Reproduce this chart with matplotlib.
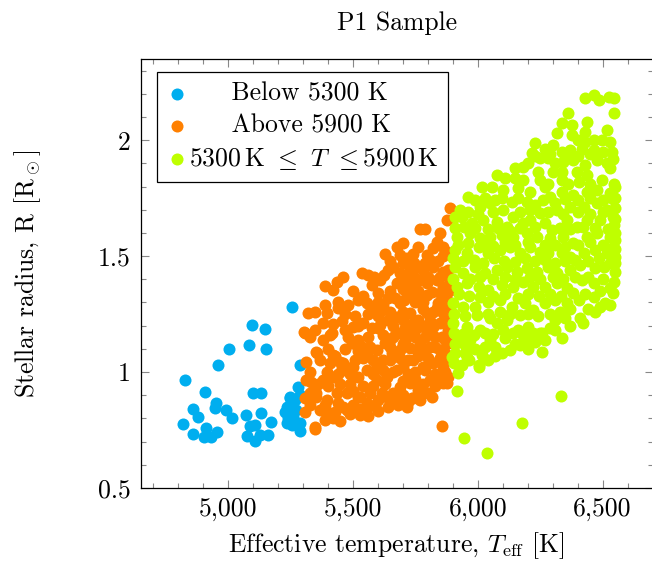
import matplotlib
matplotlib.use("Agg")
import matplotlib.pyplot as plt
from matplotlib.ticker import MultipleLocator, FuncFormatter

plt.rcParams["font.family"] = "serif"
plt.rcParams["font.serif"] = ["cmr10"]
plt.rcParams["mathtext.fontset"] = "cm"
plt.rcParams["axes.unicode_minus"] = False
plt.rcParams["axes.formatter.use_mathtext"] = True

# stars below 5300 K
blue_T = [5254, 5094, 5147, 5004, 5082, 5150, 4960, 4829, 5288, 4909, 5100, 5130,
          5281, 5247, 4860, 4951, 4947, 4991, 5014, 4880, 4820, 4860, 4913, 4903,
          4933, 4956, 5071, 5131, 5170, 5087, 5107, 5076, 5107, 5127, 5160, 5234,
          5234, 5261, 5288, 5290, 5247, 5267, 5227, 5255, 5239, 5271, 5288]
blue_R = [1.282, 1.203, 1.185, 1.100, 1.115, 1.100, 1.029, 0.967, 1.030, 0.915, 0.908, 0.911,
          0.937, 0.894, 0.841, 0.868, 0.846, 0.836, 0.801, 0.805, 0.776, 0.733, 0.757, 0.721,
          0.721, 0.740, 0.815, 0.825, 0.786, 0.769, 0.772, 0.726, 0.704, 0.729, 0.729, 0.851,
          0.779, 0.807, 0.779, 0.747, 0.888, 0.879, 0.828, 0.772, 0.802, 0.836, 0.900]

# stars between 5300 and 5900 K
orange_T = [5889, 5876, 5769, 5789, 5628, 5675, 5702, 5762, 5836, 5822, 5876, 5689,
            5715, 5796, 5809, 5535, 5561, 5461, 5435, 5388, 5421, 5575, 5608, 5642,
            5662, 5689, 5729, 5756, 5782, 5822, 5862, 5889, 5675, 5715, 5742, 5769,
            5796, 5836, 5862, 5388, 5395, 5441, 5321, 5555, 5575, 5615, 5642, 5668,
            5689, 5722, 5742, 5769, 5796, 5816, 5842, 5876, 5304, 5348, 5415, 5421,
            5468, 5501, 5541, 5575, 5608, 5642, 5675, 5702, 5729, 5762, 5796, 5836,
            5862, 5354, 5421, 5448, 5501, 5535, 5555, 5595, 5628, 5662, 5689, 5729,
            5756, 5796, 5822, 5856, 5882, 5314, 5348, 5381, 5421, 5461, 5495, 5521,
            5555, 5595, 5622, 5655, 5689, 5729, 5769, 5809, 5849, 5882, 5595, 5635,
            5675, 5702, 5742, 5782, 5822, 5862, 5354, 5395, 5435, 5475, 5521, 5568,
            5615, 5662, 5689, 5729, 5762, 5809, 5849, 5876, 5368, 5408, 5461, 5528,
            5555, 5675, 5715, 5782, 5348, 5388, 5856, 5308, 5408, 5495, 5357, 5312,
            5428, 5461, 5455, 5501, 5334, 5308, 5308, 5348, 5354, 5395, 5428, 5441,
            5475, 5528, 5561, 5662, 5862, 5769, 5817, 5737,
            5650, 5700, 5745, 5790, 5840, 5860, 5740, 5850, 5860,
            5585, 5625, 5700, 5745, 5800, 5850, 5880,
            5500, 5540, 5600, 5650, 5700, 5760, 5850, 5885,
            5440, 5480, 5520, 5600, 5620, 5705, 5750, 5780, 5860, 5885,
            5350, 5470, 5510, 5560, 5600, 5650, 5700, 5780, 5820, 5880,
            5380, 5455, 5520, 5600, 5660, 5710, 5740, 5780, 5810, 5850, 5885,
            5330, 5380, 5480, 5520, 5560, 5620, 5650, 5710, 5750, 5790, 5830, 5870,
            5400, 5470, 5520, 5570, 5650, 5700, 5760, 5790, 5830, 5870,
            5370, 5410, 5510, 5540, 5580, 5650, 5690, 5720, 5760, 5800, 5850, 5885,
            5330, 5395, 5440, 5490, 5580, 5620, 5660, 5720, 5750, 5790, 5830, 5870,
            5360, 5400, 5450, 5490, 5540, 5580, 5630, 5700, 5750, 5780, 5830, 5880,
            5330, 5500, 5600, 5640, 5700, 5740, 5800,
            5330, 5390, 5500, 5530, 5590, 5640, 5680, 5720,
            5420, 5450, 5490, 5560, 5600]
orange_R = [1.706, 1.655, 1.616, 1.616, 1.509, 1.540, 1.555, 1.540, 1.562, 1.533, 1.519, 1.504,
            1.490, 1.504, 1.483, 1.426, 1.418, 1.411, 1.389, 1.371, 1.354, 1.375, 1.397, 1.440,
            1.454, 1.426, 1.440, 1.454, 1.440, 1.454, 1.432, 1.397, 1.382, 1.397, 1.368, 1.397,
            1.382, 1.397, 1.368, 1.289, 1.253, 1.275, 1.253, 1.296, 1.282, 1.267, 1.318, 1.318,
            1.296, 1.339, 1.332, 1.325, 1.332, 1.346, 1.296, 1.310, 1.174, 1.181, 1.167, 1.207,
            1.181, 1.195, 1.210, 1.188, 1.203, 1.224, 1.238, 1.224, 1.253, 1.224, 1.253, 1.275,
            1.253, 1.088, 1.073, 1.044, 1.124, 1.109, 1.081, 1.095, 1.124, 1.152, 1.167, 1.167,
            1.188, 1.181, 1.195, 1.152, 1.181, 0.966, 0.937, 0.966, 0.980, 1.009, 1.023, 0.980,
            1.009, 1.023, 1.052, 1.081, 1.095, 1.102, 1.124, 1.109, 1.095, 1.124, 0.966, 0.980,
            1.009, 1.023, 1.052, 1.023, 1.038, 1.023, 0.894, 0.879, 0.908, 0.908, 0.894, 0.908,
            0.908, 0.908, 0.937, 0.951, 0.923, 0.966, 0.980, 0.951, 0.836, 0.822, 0.851, 0.815,
            0.865, 0.872, 0.851, 0.908, 0.764, 0.793, 0.767, 1.167, 1.160, 1.124, 1.083, 1.042,
            1.069, 1.038, 1.016, 1.023, 0.958, 0.887, 0.829, 0.753, 0.908, 0.822, 0.829, 0.865,
            0.836, 0.894, 0.851, 0.872, 0.951, 0.879, 0.892, 0.888,
            1.48, 1.47, 1.47, 1.47, 1.48, 1.50, 1.51, 1.60, 1.54,
            1.41, 1.42, 1.41, 1.41, 1.41, 1.41, 1.44,
            1.35, 1.33, 1.34, 1.35, 1.36, 1.35, 1.34, 1.35,
            1.30, 1.29, 1.31, 1.30, 1.29, 1.31, 1.30, 1.30, 1.29, 1.28,
            1.26, 1.25, 1.24, 1.25, 1.24, 1.26, 1.26, 1.27, 1.26, 1.24,
            1.21, 1.22, 1.20, 1.19, 1.20, 1.19, 1.21, 1.20, 1.22, 1.21, 1.22,
            1.15, 1.14, 1.15, 1.14, 1.15, 1.16, 1.14, 1.14, 1.15, 1.15, 1.15, 1.14,
            1.10, 1.10, 1.09, 1.11, 1.11, 1.12, 1.09, 1.10, 1.11, 1.08,
            1.05, 1.04, 1.05, 1.06, 1.05, 1.05, 1.06, 1.05, 1.07, 1.06, 1.06, 1.05,
            1.00, 1.00, 0.99, 0.99, 0.99, 1.01, 1.00, 0.99, 1.00, 1.01, 0.99, 1.00,
            0.95, 0.94, 0.95, 0.95, 0.94, 0.94, 0.95, 0.96, 0.97, 0.95, 0.94, 0.98,
            0.91, 0.92, 0.88, 0.89, 0.90, 0.89, 0.91,
            0.86, 0.86, 0.86, 0.84, 0.86, 0.85, 0.86, 0.87,
            0.80, 0.79, 0.82, 0.81, 0.83]

# stars above 5900 K
green_T = [6430, 6464, 6484, 6524, 6544, 6544, 6363, 6337, 6377, 6437, 6430, 6317,
           6377, 6517, 6497, 6230, 6270, 6303, 6337, 6370, 6417, 6464, 6464, 6531,
           6537, 6217, 6250, 6283, 6310, 6343, 6383, 6430, 6477, 6517, 6531, 6150,
           6183, 6243, 6303, 6337, 6397, 6437, 6076, 6110, 6150, 6183, 6250, 6283,
           6337, 6363, 6404, 6450, 6497, 6544, 6016, 6056, 6103, 6163, 6210, 6270,
           6290, 6337, 6383, 6437, 6477, 6531, 5962, 6009, 6049, 6096, 6136, 6197,
           6230, 6250, 6317, 6370, 6424, 6477, 6517, 6551, 5909, 5936, 5976, 6023,
           6076, 6116, 6143, 6183, 6210, 6270, 6297, 6357, 6397, 6437, 6491, 6544,
           5916, 5969, 6009, 6049, 6096, 6143, 6197, 6237, 6290, 6343, 6383, 6437,
           6477, 6531, 6551, 5909, 5956, 6003, 6043, 6090, 6130, 6170, 6210, 6250,
           6283, 6337, 6370, 6424, 6470, 6517, 6551, 5909, 5942, 5989, 6029, 6076,
           6116, 6156, 6197, 6237, 6283, 6317, 6370, 6410, 6470, 6504, 6551, 5916,
           5956, 6003, 6043, 6096, 6143, 6183, 6223, 6270, 6317, 6357, 6417, 6464,
           6531, 5902, 5942, 5989, 6043, 6090, 6136, 6190, 6223, 6270, 6310, 6357,
           6404, 6464, 6511, 5902, 5956, 6009, 6076, 6116, 6163, 6203, 6257, 6337,
           5909, 5956, 6003, 6096, 6130, 6170, 6257, 5922, 6177, 6250, 6350, 5916,
           6333, 6177, 5945, 6036, 6003, 5896, 5949, 6016, 5969, 6049, 6110, 6210,
           5921, 6049, 6170, 6310, 6410, 6470,
           5990, 6030, 6070, 6160, 6260, 6310, 6350, 6400, 6450, 6500, 6540,
           5930, 5960, 6000, 6060, 6100, 6170, 6210, 6280, 6340, 6400, 6450, 6500, 6540,
           5910, 5945, 5990, 6040, 6080, 6130, 6170, 6230, 6330, 6370, 6420, 6470, 6520,
           5920, 5960, 6020, 6060, 6110, 6150, 6200, 6270, 6310, 6350, 6400, 6450, 6500, 6540,
           5900, 5940, 5985, 6020, 6065, 6105, 6150, 6190, 6230, 6270, 6310, 6350, 6390,
           6440, 6485, 6530,
           5900, 5970, 6010, 6060, 6110, 6150, 6210, 6250, 6300, 6340, 6390, 6440, 6500, 6545,
           5925, 5965, 6010, 6060, 6110, 6160, 6200, 6245, 6290, 6335, 6380, 6430, 6490, 6540,
           5905, 5950, 5995, 6040, 6090, 6130, 6200, 6240, 6290, 6330, 6370, 6440, 6490, 6530,
           5905, 5940, 5985, 6030, 6060, 6100, 6140, 6180, 6220, 6290, 6310, 6370, 6420,
           5910, 5950, 5990, 6030, 6070, 6150, 6200, 6230, 6270,
           5905, 5935, 5965, 6040, 6070,
           6200, 6230, 6290, 6350, 6400, 6450, 6500, 6540, 6400, 6430,
           6550, 6550, 6550, 6550, 6550, 6550]
green_R = [2.180, 2.194, 2.172, 2.187, 2.180, 2.118, 2.118, 2.075, 2.065, 2.079, 2.036, 2.029,
           2.022, 2.043, 2.000, 1.988, 1.964, 1.978, 1.950, 1.957, 1.964, 2.000, 1.957, 1.993,
           1.950, 1.943, 1.921, 1.921, 1.900, 1.907, 1.914, 1.892, 1.914, 1.900, 1.878, 1.878,
           1.885, 1.863, 1.863, 1.863, 1.863, 1.849, 1.849, 1.835, 1.835, 1.828, 1.828, 1.813,
           1.828, 1.813, 1.820, 1.813, 1.828, 1.813, 1.799, 1.799, 1.785, 1.792, 1.777, 1.799,
           1.756, 1.777, 1.763, 1.777, 1.785, 1.770, 1.756, 1.713, 1.727, 1.749, 1.734, 1.734,
           1.720, 1.684, 1.698, 1.713, 1.713, 1.727, 1.698, 1.706, 1.669, 1.669, 1.641, 1.655,
           1.648, 1.626, 1.669, 1.641, 1.655, 1.641, 1.612, 1.655, 1.626, 1.655, 1.655, 1.634,
           1.583, 1.598, 1.576, 1.583, 1.591, 1.583, 1.598, 1.583, 1.576, 1.583, 1.555, 1.583,
           1.598, 1.583, 1.598, 1.526, 1.512, 1.540, 1.512, 1.526, 1.540, 1.512, 1.540, 1.519,
           1.512, 1.512, 1.497, 1.512, 1.526, 1.512, 1.497, 1.454, 1.426, 1.454, 1.426, 1.440,
           1.454, 1.432, 1.447, 1.432, 1.454, 1.426, 1.440, 1.461, 1.447, 1.454, 1.432, 1.368,
           1.382, 1.368, 1.354, 1.375, 1.368, 1.389, 1.368, 1.368, 1.382, 1.361, 1.397, 1.382,
           1.361, 1.296, 1.282, 1.282, 1.303, 1.310, 1.282, 1.296, 1.267, 1.296, 1.310, 1.296,
           1.310, 1.325, 1.299, 1.210, 1.195, 1.181, 1.210, 1.224, 1.181, 1.195, 1.167, 1.145,
           1.081, 1.066, 1.030, 1.081, 1.095, 1.116, 1.088, 0.995, 1.124, 1.167, 1.232, 0.920,
           0.898, 0.782, 0.717, 0.650, 1.023, 1.066, 1.081, 1.073, 1.138, 1.138, 1.147, 1.138,
           1.138, 1.233, 1.246, 1.224, 1.233, 1.259,
           1.74, 1.75, 1.74, 1.75, 1.74, 1.73, 1.745, 1.74, 1.75, 1.74, 1.745,
           1.70, 1.69, 1.68, 1.69, 1.70, 1.69, 1.70, 1.69, 1.68, 1.69, 1.68, 1.69, 1.67,
           1.62, 1.625, 1.62, 1.615, 1.62, 1.61, 1.62, 1.625, 1.62, 1.615, 1.625, 1.62, 1.615,
           1.55, 1.555, 1.55, 1.545, 1.56, 1.55, 1.56, 1.55, 1.55, 1.54, 1.55, 1.56, 1.55, 1.54,
           1.49, 1.48, 1.485, 1.47, 1.49, 1.48, 1.475, 1.49, 1.48, 1.485, 1.47, 1.48, 1.485,
           1.48, 1.49, 1.47,
           1.40, 1.40, 1.41, 1.40, 1.41, 1.40, 1.41, 1.40, 1.41, 1.40, 1.41, 1.41, 1.40, 1.39,
           1.335, 1.33, 1.325, 1.33, 1.335, 1.32, 1.335, 1.33, 1.335, 1.33, 1.34, 1.335, 1.35, 1.34,
           1.25, 1.24, 1.245, 1.25, 1.26, 1.25, 1.25, 1.24, 1.25, 1.26, 1.27, 1.27, 1.28, 1.29,
           1.17, 1.165, 1.16, 1.17, 1.165, 1.18, 1.17, 1.16, 1.17, 1.19, 1.18, 1.20, 1.21,
           1.12, 1.115, 1.10, 1.11, 1.11, 1.12, 1.10, 1.13, 1.14,
           1.04, 1.03, 1.05, 1.05, 1.07,
           1.90, 1.93, 1.94, 1.94, 1.93, 1.94, 1.95, 1.92, 2.00, 1.99,
           1.80, 1.75, 1.66, 1.57, 1.53, 1.47]

fig = plt.figure(figsize=(6.52, 5.62), dpi=100)
ax = fig.add_axes([0.2158, 0.1317, 0.785, 0.7633])

fs = 18.5
ms = 75
ax.scatter(blue_T, blue_R, s=ms, color="#00AEEF", linewidths=0, label="     Below 5300 K", zorder=2)
ax.scatter(orange_T, orange_R, s=ms, color="#FF8000", linewidths=0, label="     Above 5900 K", zorder=3)
ax.scatter(green_T, green_R, s=ms, color="#BFFF00", linewidths=0,
           label=r"5300$\,$K $\leq$ $T$ $\leq$5900$\,$K", zorder=4)

ax.set_xlim(4650, 6700)
ax.set_ylim(0.5, 2.35)
ax.xaxis.set_major_locator(MultipleLocator(500))
ax.xaxis.set_minor_locator(MultipleLocator(100))
ax.yaxis.set_major_locator(MultipleLocator(0.5))
ax.yaxis.set_minor_locator(MultipleLocator(0.1))
ax.xaxis.set_major_formatter(FuncFormatter(lambda v, p: "{:,.0f}".format(v)))
ax.yaxis.set_major_formatter(FuncFormatter(lambda v, p: "{:g}".format(v)))

ax.tick_params(which="both", direction="in", top=True, right=True, color="#888888",
               labelsize=fs, width=0.8)
ax.tick_params(which="major", length=6, pad=7)
ax.tick_params(which="minor", length=3.5)
for s in ax.spines.values():
    s.set_linewidth(0.9)

ax.set_title("P1 Sample", fontsize=fs, pad=21)
ax.set_xlabel(r"Effective temperature, $T_{\rm eff}$ [K]", fontsize=fs, labelpad=6)
ax.set_ylabel(r"Stellar radius, R [R$_\odot$]", fontsize=fs, labelpad=40)

leg = ax.legend(loc="upper left", bbox_to_anchor=(0.032, 0.970), borderaxespad=0,
                fontsize=fs, fancybox=False, framealpha=1, edgecolor="black",
                handletextpad=0.05, handlelength=0.8, labelspacing=0.33, borderpad=0.38,
                scatterpoints=1)
leg.get_frame().set_linewidth(0.9)

fig.savefig("out.png", dpi=100)
